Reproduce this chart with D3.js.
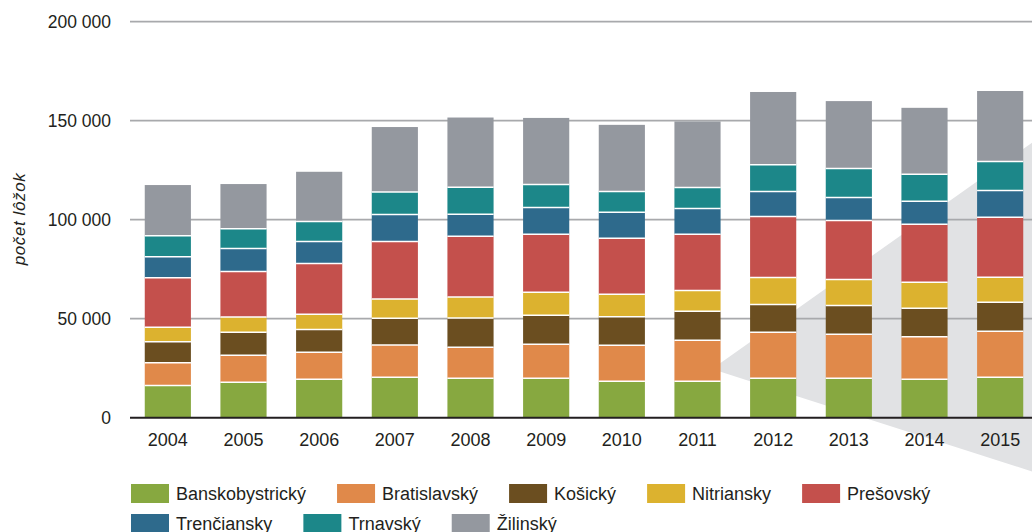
<!DOCTYPE html>
<html>
<head>
<meta charset="utf-8">
<script src="https://cdn.jsdelivr.net/npm/d3@7"></script>
<style>
  body { margin: 0; background: #fff; }
  svg { display: block; font-family: "Liberation Sans", Arial, sans-serif; }
  .tick-label { fill: #231f20; font-size: 17.5px; }
  .year, .legend text { fill: #231f20; font-size: 18px; }
  .y-title { fill: #231f20; font-size: 17px; font-style: italic; letter-spacing: 0.6px; }
</style>
</head>
<body>
<div id="chart"></div>
<script>
// Data (počet lôžok per region and year)
var years = ["2004", "2005", "2006", "2007", "2008", "2009", "2010", "2011", "2012", "2013", "2014", "2015"];
var regions = ["Banskobystrický", "Bratislavský", "Košický", "Nitriansky", "Prešovský", "Trenčiansky", "Trnavský", "Žilinský"];
var colors = ["#87a840", "#e0894a", "#6b4e20", "#dcb22f", "#c4504c", "#2e6a8c", "#1c8789", "#94989f"];

var banskobystricky = [16200, 17900, 19400, 20400, 19900, 19900, 18400, 18400, 19900, 19900, 19400, 20400];
var bratislavsky    = [11600, 13600, 13600, 16300, 15700, 17200, 18200, 20700, 23200, 22200, 21500, 23200];
var kosicky         = [10600, 11600, 11600, 13500, 14700, 14600, 14400, 14600, 14100, 14600, 14400, 14700];
var nitriansky      = [ 7300,  7700,  7600,  9700, 10600, 11600, 11300, 10600, 13600, 13100, 13100, 12600];
var presovsky       = [25000, 23100, 25700, 29100, 30800, 29300, 28300, 28300, 30800, 29800, 29300, 30300];
var trenciansky     = [10600, 11600, 11100, 13600, 11100, 13600, 13100, 13100, 12600, 11600, 11600, 13600];
var trnavsky        = [10600,  9900, 10100, 11400, 13600, 11600, 10600, 10600, 13600, 14600, 13600, 14600];
var zilinsky        = [25600, 22600, 25100, 32800, 35200, 33600, 33600, 33300, 36700, 34100, 33600, 35600];

var yTicks = [0, 50000, 100000, 150000, 200000];

var series = [banskobystricky, bratislavsky, kosicky, nitriansky, presovsky, trenciansky, trnavsky, zilinsky];

// table for d3.stack
var table = years.map(function(y, i) {
  var row = { year: y };
  regions.forEach(function(r, k) { row[r] = series[k][i]; });
  return row;
});

var width = 1032, height = 532;
var margin = { top: 21.7, left: 130 };
var plotBottom = 417.7;

var svg = d3.select("#chart").append("svg")
    .attr("width", width)
    .attr("height", height);

var x = d3.scaleBand()
    .domain(years)
    .range([margin.left, 1038])
    .paddingInner(0.39)
    .paddingOuter(0.195);

var y = d3.scaleLinear()
    .domain([0, 200000])
    .range([plotBottom, margin.top]);

// decorative grey wedge behind the bars
svg.append("polygon")
    .attr("points", "712,369 1040,137 1040,474")
    .attr("fill", "#e1e2e4");

var fmt = d3.formatLocale({ decimal: ",", thousands: " ", grouping: [3], currency: ["", " €"] }).format(",");

// gridlines
svg.append("g")
  .selectAll("line")
  .data(yTicks.filter(function(d) { return d > 0; }))
  .enter().append("line")
    .attr("x1", margin.left)
    .attr("x2", width)
    .attr("y1", function(d) { return y(d); })
    .attr("y2", function(d) { return y(d); })
    .attr("stroke", "#a8a9ac")
    .attr("stroke-width", 1.8);

// y tick labels
svg.append("g")
  .selectAll("text")
  .data(yTicks)
  .enter().append("text")
    .attr("class", "tick-label")
    .attr("x", 111)
    .attr("y", function(d) { return y(d); })
    .attr("dy", "0.35em")
    .attr("text-anchor", "end")
    .text(function(d) { return fmt(d); });

// y axis title
svg.append("text")
    .attr("class", "y-title")
    .attr("transform", "translate(25," + 219 + ") rotate(-90)")
    .attr("text-anchor", "middle")
    .text("počet lôžok");

// stacked bars
var stacked = d3.stack().keys(regions)(table);

var layer = svg.append("g")
  .selectAll("g")
  .data(stacked)
  .enter().append("g")
    .attr("fill", function(d, i) { return colors[i]; });

layer.selectAll("rect")
  .data(function(d) { return d; })
  .enter().append("rect")
    .attr("x", function(d) { return x(d.data.year); })
    .attr("width", x.bandwidth())
    .attr("y", function(d) { return y(d[1]); })
    .attr("height", function(d) { return y(d[0]) - y(d[1]); });

// white separators between segments
svg.append("g")
  .selectAll("g")
  .data(stacked.slice(0, stacked.length - 1))
  .enter().append("g")
  .selectAll("line")
  .data(function(d) { return d; })
  .enter().append("line")
    .attr("x1", function(d) { return x(d.data.year); })
    .attr("x2", function(d) { return x(d.data.year) + x.bandwidth(); })
    .attr("y1", function(d) { return y(d[1]); })
    .attr("y2", function(d) { return y(d[1]); })
    .attr("stroke", "#fff")
    .attr("stroke-width", 1.5);

// baseline
svg.append("line")
    .attr("x1", margin.left)
    .attr("x2", width)
    .attr("y1", y(0))
    .attr("y2", y(0))
    .attr("stroke", "#231f20")
    .attr("stroke-width", 2);

// year labels
svg.append("g")
  .selectAll("text")
  .data(years)
  .enter().append("text")
    .attr("class", "year")
    .attr("x", function(d) { return x(d) + x.bandwidth() / 2; })
    .attr("y", 446)
    .attr("text-anchor", "middle")
    .text(function(d) { return d; });

// legend, two rows flowing left to right
var legend = svg.append("g").attr("class", "legend");
var rows = [regions.slice(0, 5), regions.slice(5)];
rows.forEach(function(row, r) {
  var cx = 131;
  var top = 484 + r * 30;
  row.forEach(function(name) {
    var k = regions.indexOf(name);
    legend.append("rect")
        .attr("x", cx)
        .attr("y", top)
        .attr("width", 38)
        .attr("height", 19)
        .attr("fill", colors[k]);
    var t = legend.append("text")
        .attr("x", cx + 45)
        .attr("y", top + 16)
        .text(name);
    cx += 45 + t.node().getComputedTextLength() + 31;
  });
});
</script>
</body>
</html>
